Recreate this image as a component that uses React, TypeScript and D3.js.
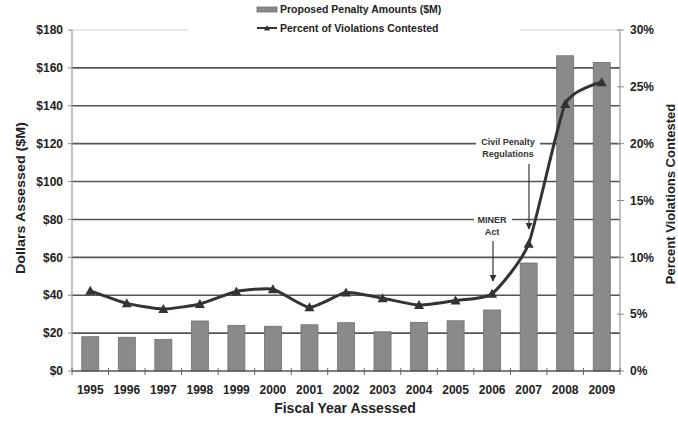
import React from "react";
import { scaleBand, scaleLinear, line, curveCardinal, range } from "d3";

const WIDTH = 678;
const HEIGHT = 423;
const LEFT = 72;
const RIGHT = 620;
const TOP = 30;
const BOTTOM = 371;
const FONT = "'Liberation Sans', Arial, sans-serif";

const years = ["1995", "1996", "1997", "1998", "1999", "2000", "2001", "2002", "2003", "2004", "2005", "2006", "2007", "2008", "2009"];
const penalties = [18.1, 17.8, 16.7, 26.4, 24.1, 23.6, 24.4, 25.5, 20.7, 25.7, 26.5, 32.2, 57, 166.4, 162.9];
const contested = [7.05, 5.95, 5.45, 5.9, 7.0, 7.2, 5.6, 6.9, 6.4, 5.8, 6.2, 6.8, 11.2, 23.5, 25.4];
const dollarTicks = [0, 20, 40, 60, 80, 100, 120, 140, 160, 180];
const percentTicks = [0, 5, 10, 15, 20, 25, 30];

const App = () => {
    const x = scaleBand<string>().domain(years).range([LEFT, RIGHT]);
    const yL = scaleLinear().domain([0, 180]).range([BOTTOM, TOP]);
    const yR = scaleLinear().domain([0, 30]).range([BOTTOM, TOP]);
    const cx = (i: number) => (x(years[i]) ?? 0) + x.bandwidth() / 2;
    const barW = 17;

    // smoothed like the Excel line, but with less overshoot
    const path = line<number>()
        .x((_, i) => cx(i))
        .y(d => yR(d))
        .curve(curveCardinal.tension(0.45))(contested);

    const tri = (px: number, py: number, s = 5) =>
        `M${px},${py - s}L${px + s},${py + s * 0.8}L${px - s},${py + s * 0.8}Z`;

    return (
        <svg width={WIDTH} height={HEIGHT} style={{ position: "absolute", left: 0, top: 0, background: "#fff" }}>
            <defs>
                <marker id="arr" viewBox="0 0 10 10" refX="9" refY="5" markerWidth="6" markerHeight="6" orient="auto">
                    <path d="M0,0L10,5L0,10Z" fill="#333" />
                </marker>
            </defs>
            {/* gridlines */}
            {dollarTicks.slice(1).map(t => (
                <line key={t} x1={LEFT} x2={RIGHT} y1={yL(t)} y2={yL(t)}
                    stroke={t === 180 ? "#d0d0d0" : "#555"} strokeWidth={t === 180 ? 1 : 1.6} />
            ))}
            {/* bars */}
            {penalties.map((v, i) => (
                <rect key={years[i]} x={cx(i) - barW / 2} y={yL(v)} width={barW} height={BOTTOM - yL(v)}
                    fill="#8a8a8a" stroke="#6e6e6e" strokeWidth={0.8} />
            ))}
            {/* left axis */}
            <line x1={LEFT} x2={LEFT} y1={TOP} y2={BOTTOM} stroke="#999" strokeWidth={1.2} />
            {dollarTicks.map(t => (
                <g key={t}>
                    <line x1={LEFT - 4} x2={LEFT} y1={yL(t)} y2={yL(t)} stroke="#888" />
                    <text x={LEFT - 9} y={yL(t)} dy="0.35em" textAnchor="end" fontFamily={FONT}
                        fontWeight="bold" fontSize={12} fill="#222">${t}</text>
                </g>
            ))}
            {/* right axis */}
            <line x1={RIGHT} x2={RIGHT} y1={TOP} y2={BOTTOM} stroke="#999" strokeWidth={1.2} />
            {percentTicks.map(t => (
                <g key={t}>
                    <line x1={RIGHT - 3} x2={RIGHT + 4} y1={yR(t)} y2={yR(t)} stroke="#888" />
                    <text x={RIGHT + 10} y={yR(t)} dy="0.35em" textAnchor="start" fontFamily={FONT}
                        fontWeight="bold" fontSize={12} fill="#222">{t}%</text>
                </g>
            ))}
            {/* bottom axis */}
            <line x1={LEFT} x2={RIGHT} y1={BOTTOM} y2={BOTTOM} stroke="#555" strokeWidth={1.6} />
            {range(years.length + 1).map(i => {
                const px = LEFT + i * x.step();
                return <line key={i} x1={px} x2={px} y1={BOTTOM - 3} y2={BOTTOM + 4} stroke="#666" />;
            })}
            {years.map((yr, i) => (
                <text key={yr} x={cx(i)} y={BOTTOM + 23} textAnchor="middle" fontFamily={FONT}
                    fontWeight="bold" fontSize={12} fill="#222">{yr}</text>
            ))}
            {/* line series */}
            <path d={path ?? ""} fill="none" stroke="#333" strokeWidth={3} />
            {contested.map((v, i) => (
                <path key={years[i]} d={tri(cx(i), yR(v))} fill="#333" />
            ))}
            {/* annotations */}
            <rect x={476} y={134} width={64} height={26} fill="#fff" />
            <text x={508} y={145} textAnchor="middle" fontFamily={FONT} fontWeight="bold" fontSize={9} fill="#333">Civil Penalty</text>
            <text x={508} y={157} textAnchor="middle" fontFamily={FONT} fontWeight="bold" fontSize={9} fill="#333">Regulations</text>
            <line x1={529} y1={164} x2={529} y2={229} stroke="#333" strokeWidth={1.2} markerEnd="url(#arr)" />
            <rect x={474} y={212} width={38} height={26} fill="#fff" />
            <text x={492} y={223} textAnchor="middle" fontFamily={FONT} fontWeight="bold" fontSize={9} fill="#333">MINER</text>
            <text x={492} y={235} textAnchor="middle" fontFamily={FONT} fontWeight="bold" fontSize={9} fill="#333">Act</text>
            <line x1={493} y1={241} x2={493} y2={281} stroke="#333" strokeWidth={1.2} markerEnd="url(#arr)" />
            {/* legend */}
            <rect x={188} y={0} width={332} height={36} fill="#fff" />
            <rect x={257} y={7} width={20} height={5} fill="#8a8a8a" stroke="#6e6e6e" strokeWidth={0.8} />
            <text x={280} y={13} fontFamily={FONT} fontWeight="bold" fontSize={10.5} fill="#222">Proposed Penalty Amounts ($M)</text>
            <line x1={257} x2={277} y1={28} y2={28} stroke="#333" strokeWidth={2} />
            <path d={tri(267, 28, 3)} fill="#333" />
            <text x={280} y={32} fontFamily={FONT} fontWeight="bold" fontSize={10.5} fill="#222">Percent of Violations Contested</text>
            {/* axis titles */}
            <text transform="translate(25,198) rotate(-90)" textAnchor="middle" fontFamily={FONT}
                fontWeight="bold" fontSize={13} textLength={152} lengthAdjust="spacingAndGlyphs" fill="#222">Dollars Assessed ($M)</text>
            <text transform="translate(675,194) rotate(-90)" textAnchor="middle" fontFamily={FONT}
                fontWeight="bold" fontSize={13} fill="#222">Percent Violations Contested</text>
            <text x={345} y={413} textAnchor="middle" fontFamily={FONT} fontWeight="bold" fontSize={14} fill="#222">Fiscal Year Assessed</text>
        </svg>
    );
};

export default App;
